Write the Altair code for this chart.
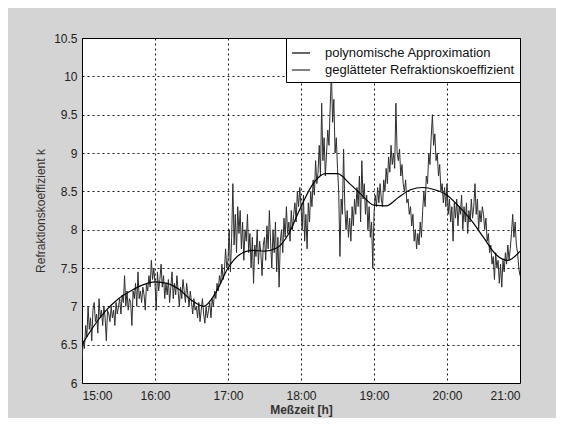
import altair as alt
import pandas as pd

# polynomial approximation, every 10 minutes from 15:00 to 21:00
poly_values = [6.5, 6.75, 6.95, 7.1, 7.2, 7.28, 7.32, 7.3, 7.22, 7.08, 7.0, 7.18,
               7.5, 7.68, 7.73, 7.72, 7.76, 7.95, 8.3, 8.6, 8.73, 8.73, 8.6, 8.45,
               8.32, 8.31, 8.42, 8.52, 8.55, 8.52, 8.45, 8.3, 8.12, 7.9, 7.68, 7.6, 7.72]

# smoothed refraction coefficient, one value per minute, half-hour segments
seg_1500 = [6.3, 6.55, 6.45, 6.75, 6.6, 7.0, 6.7, 6.85, 6.55, 6.95, 7.05, 6.8, 6.9, 6.65, 7.1,
            6.85, 6.95, 6.75, 7.0, 6.85, 6.55, 6.95, 6.9, 6.8, 7.0, 6.85, 6.95, 6.75, 7.05, 6.9]
seg_1530 = [7.0, 7.1, 6.9, 7.15, 7.05, 7.4, 7.0, 7.2, 6.95, 7.1, 7.05, 6.75, 7.2, 7.1, 7.3,
            7.0, 7.45, 7.1, 7.2, 7.05, 7.25, 7.15, 6.95, 7.3, 7.2, 7.4, 7.25, 7.6, 7.35, 7.5]
seg_1600 = [7.3, 6.95, 7.45, 7.2, 7.35, 7.55, 7.25, 7.4, 7.1, 7.3, 7.15, 7.35, 7.05, 7.25, 7.45,
            7.1, 7.3, 7.15, 7.4, 7.2, 7.0, 7.25, 7.1, 7.35, 7.2, 7.05, 7.3, 7.15, 7.0, 7.2]
seg_1630 = [7.05, 6.9, 7.1, 6.95, 7.0, 6.85, 7.05, 6.8, 6.95, 7.1, 6.9, 6.78, 7.0, 6.85, 6.95,
            7.05, 6.85, 7.1, 7.0, 7.2, 7.1, 7.3, 7.2, 7.4, 7.3, 7.55, 7.35, 7.45, 7.75, 7.5]
seg_1700 = [7.6, 8.0, 7.45, 7.9, 8.6, 7.8, 8.2, 7.7, 8.3, 7.95, 8.25, 7.75, 8.1, 7.6, 8.0,
            7.85, 8.2, 7.7, 7.95, 7.5, 7.9, 7.3, 7.8, 7.65, 8.0, 7.55, 7.85, 7.7, 7.4, 7.8]
seg_1730 = [7.9, 7.6, 8.05, 7.75, 8.25, 7.85, 7.5, 8.0, 7.7, 8.1, 7.45, 7.9, 7.25, 7.85, 8.0,
            7.7, 8.15, 7.9, 8.3, 7.95, 8.1, 7.85, 8.25, 8.0, 8.2, 8.35, 8.1, 8.5, 8.3, 8.55]
seg_1800 = [8.3, 8.0, 8.45, 7.85, 8.2, 7.75, 8.35, 8.1, 8.5, 8.3, 8.65, 8.45, 8.9, 8.6, 8.75,
            9.1, 8.7, 9.65, 8.9, 9.2, 8.7, 9.0, 9.3, 9.1, 9.6, 10.05, 9.4, 9.7, 9.0, 9.2]
seg_1830 = [8.8, 8.5, 7.65, 8.4, 8.2, 9.05, 8.3, 8.0, 8.25, 7.9, 8.15, 7.85, 8.3, 8.05, 8.4,
            8.2, 8.55, 8.3, 8.7, 8.1, 8.9, 8.4, 8.6, 8.2, 8.45, 8.0, 8.3, 7.9, 8.1, 7.5]
seg_1900 = [8.2, 8.45, 8.3, 8.55, 8.35, 8.6, 8.4, 8.3, 8.65, 8.5, 8.8, 8.6, 8.95, 8.75, 9.1,
            8.85, 9.0, 8.8, 9.65, 9.0, 8.9, 9.05, 8.7, 8.85, 8.6, 8.5, 8.65, 8.35, 8.4, 8.2]
seg_1930 = [8.3, 8.05, 8.2, 7.85, 8.0, 7.75, 7.95, 7.8, 8.1, 7.9, 8.25, 8.5, 8.3, 8.7, 8.6,
            9.0, 8.85, 9.2, 9.5, 9.1, 9.25, 8.9, 9.0, 8.7, 8.85, 8.5, 8.6, 8.35, 8.55, 8.3]
seg_2000 = [8.6, 8.2, 8.4, 8.1, 8.3, 7.85, 8.35, 8.15, 8.4, 8.05, 8.3, 8.2, 8.45, 8.0, 8.3,
            8.1, 8.35, 7.95, 8.25, 8.1, 8.4, 8.15, 8.3, 8.6, 8.2, 8.4, 8.0, 8.25, 8.1, 8.3]
seg_2030 = [8.2, 8.0, 8.15, 7.85, 7.95, 7.7, 7.8, 7.55, 7.65, 7.35, 7.7, 7.5, 7.6, 7.3, 7.55,
            7.25, 7.6, 7.45, 7.7, 7.55, 7.8, 7.6, 7.75, 7.95, 8.2, 7.9, 8.1, 7.8, 7.7, 7.5, 7.4]

hour_ticks = [0, 60, 120, 180, 240, 300, 360]
k_ticks = [6, 6.5, 7, 7.5, 8, 8.5, 9, 9.5, 10, 10.5]

S1 = "polynomische Approximation"
S2 = "geglätteter Refraktionskoeffizient"

noisy = (seg_1500 + seg_1530 + seg_1600 + seg_1630 + seg_1700 + seg_1730 +
         seg_1800 + seg_1830 + seg_1900 + seg_1930 + seg_2000 + seg_2030)
n = len(noisy)
df_noisy = pd.DataFrame({"t": [i * 360.0 / (n - 1) for i in range(n)], "k": noisy,
                         "s": [S2] * n})
m = len(poly_values)
df_poly = pd.DataFrame({"t": [i * 360.0 / (m - 1) for i in range(m)], "k": poly_values,
                        "s": [S1] * m})

FONT = "Liberation Sans"

xenc = alt.X("t:Q", scale=alt.Scale(domain=[0, 360], nice=False),
             axis=alt.Axis(values=hour_ticks, title="Meßzeit [h]",
                           labelExpr="(15 + datum.value / 60) + ':00'",
                           titleFontWeight="bold", titlePadding=3, labelPadding=7))
yenc = alt.Y("k:Q", scale=alt.Scale(domain=[6, 10.5], nice=False, zero=False),
             axis=alt.Axis(values=k_ticks, format="~g", title="Refraktionskoeffizient k",
                           titleFontWeight="normal", titlePadding=6, labelPadding=5))

color_scale = alt.Scale(domain=[S1, S2], range=["#000000", "#2e2e2e"])
legend = alt.Legend(title=None, orient="top-right", offset=0,
                    strokeColor="#000000", fillColor="#ffffff",
                    padding=5, labelOffset=14, rowPadding=0,
                    symbolType="stroke", symbolSize=330,
                    symbolStrokeWidth=1.2, labelFontSize=13,
                    labelFont=FONT, labelColor="#111111",
                    labelLimit=300, cornerRadius=0)

noisy_line = alt.Chart(df_noisy).mark_line(strokeWidth=1, clip=True).encode(
    x=xenc, y=yenc,
    color=alt.Color("s:N", scale=color_scale, legend=legend),
)

poly_line = alt.Chart(df_poly).mark_line(strokeWidth=1.2, interpolate="monotone", clip=True).encode(
    x=xenc, y=yenc,
    color=alt.Color("s:N", scale=color_scale, legend=legend),
)

chart = alt.layer(noisy_line, poly_line).properties(
    width=438, height=345,
    background="#d4d4d4",
    padding={"left": 74, "top": 30, "right": 36, "bottom": 35},
    autosize=alt.AutoSizeParams(type="none"),
).configure_view(
    fill="#ffffff", stroke="#000000", strokeWidth=1
).configure_axis(
    grid=True, gridColor="#000000", gridDash=[2, 3], gridWidth=1, gridOpacity=0.9,
    domain=False, ticks=False,
    labelFont=FONT, titleFont=FONT, labelFontSize=12, titleFontSize=12,
    labelColor="#222222", titleColor="#333333",
)

chart.save("out.html", embed_options={"renderer": "svg", "actions": False})
